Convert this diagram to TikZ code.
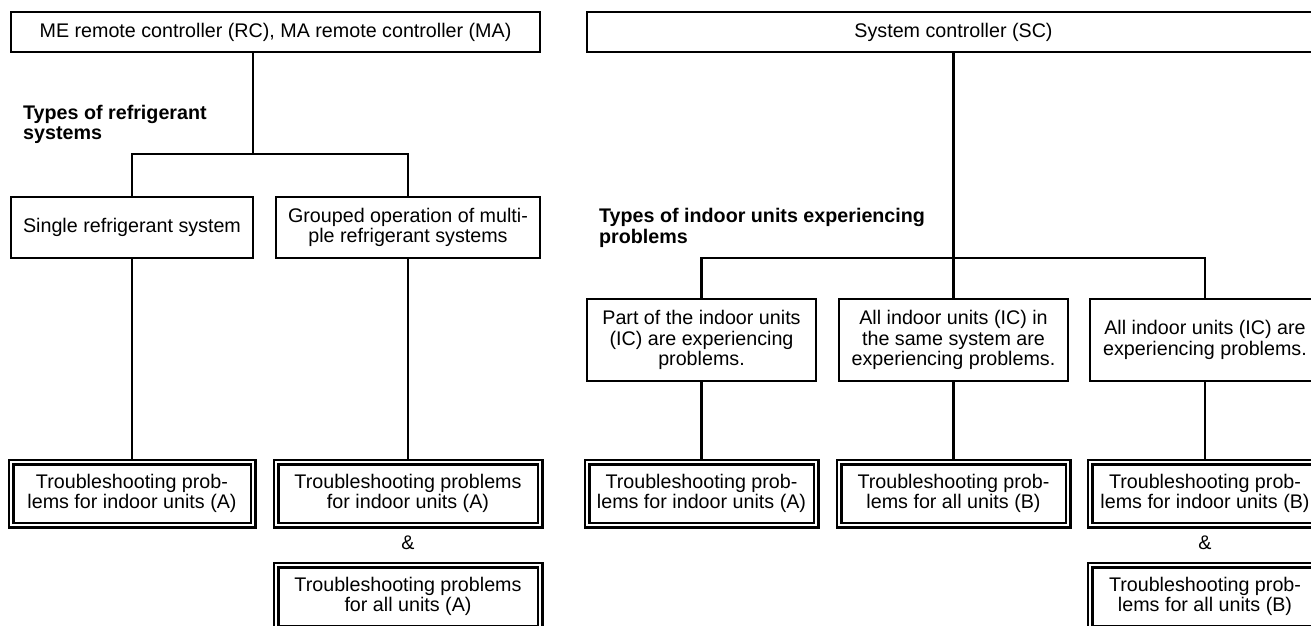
\documentclass[tikz,border=0pt]{standalone}
\usepackage{fontspec}
\setmainfont{Liberation Sans}
\usepackage{tikz}

\begin{document}
\begin{tikzpicture}[x=1pt, y=-1pt, line width=2.3pt,
	every node/.style={font=\fontsize{19.7}{20.5}\selectfont, inner sep=0pt},
	box/.style={draw, align=center},
	dbox/.style={box, double, double distance=2.4pt, outer sep=3.5pt},
	lbl/.style={anchor=north west, align=left, font=\fontsize{19.7}{20.5}\selectfont\bfseries}]
	\useasboundingbox (0,0) rectangle (1311,626);
	\clip (0,0) rectangle (1311,626);
	% left tree
	\node[box, minimum width=529pt, minimum height=40pt] (rcma) at (275.5,32) {ME remote controller (RC), MA remote controller (MA)};
	\node[lbl] (typRef) at (22,104) {Types of refrigerant\\systems};
	\node[box, minimum width=242pt, minimum height=61pt] (single) at (132,227.5) {Single refrigerant system};
	\node[box, minimum width=264pt, minimum height=61pt] (grouped) at (408,227.5) {Grouped operation of multi-\\ple refrigerant systems};
	\node[dbox, minimum width=242pt, minimum height=63pt] (trA1) at (132,493.5) {Troubleshooting prob-\\lems for indoor units (A)};
	\node[dbox, minimum width=264pt, minimum height=63pt] (trA2) at (408,493.5) {Troubleshooting problems\\for indoor units (A)};
	\node (ampA) at (408,543) {\&};
	\node[dbox, minimum width=264pt, minimum height=63pt] (trA3) at (408,596.5) {Troubleshooting problems\\for all units (A)};
	\coordinate (busL) at (253,154);
	\draw (rcma.south -| busL) -- (busL);
	\draw (single.north) |- (busL) -| (grouped.north);
	\draw (single.south) -- (trA1.north);
	\draw (grouped.south) -- (trA2.north);
	% right tree
	\node[box, minimum width=733pt, minimum height=40pt] (sc) at (953.5,32) {System controller (SC)};
	\node[lbl] (typInd) at (598,207.5) {Types of indoor units experiencing\\problems};
	\node[box, minimum width=229pt, minimum height=82pt] (part) at (701.5,340) {Part of the indoor units\\(IC) are experiencing\\problems.};
	\node[box, minimum width=229pt, minimum height=82pt] (same) at (953.5,340) {All indoor units (IC) in\\the same system are\\experiencing problems.};
	\node[box, minimum width=230pt, minimum height=82pt] (all) at (1205,340) {All indoor units (IC) are\\experiencing problems.};
	\node[dbox, minimum width=229pt, minimum height=63pt] (trB1) at (701.5,493.5) {Troubleshooting prob-\\lems for indoor units (A)};
	\node[dbox, minimum width=229pt, minimum height=63pt] (trB2) at (953.5,493.5) {Troubleshooting prob-\\lems for all units (B)};
	\node[dbox, minimum width=230pt, minimum height=63pt] (trB3) at (1205,493.5) {Troubleshooting prob-\\lems for indoor units (B)};
	\node (ampB) at (1205,543) {\&};
	\node[dbox, minimum width=230pt, minimum height=63pt] (trB4) at (1205,596.5) {Troubleshooting prob-\\lems for all units (B)};
	\coordinate (busR) at (953.5,258);
	\draw (sc.south) -- (same.north);
	\draw (part.north) |- (busR) -| (all.north);
	\draw (part.south) -- (trB1.north);
	\draw (same.south) -- (trB2.north);
	\draw (all.south) -- (trB3.north);
\end{tikzpicture}
\end{document}
